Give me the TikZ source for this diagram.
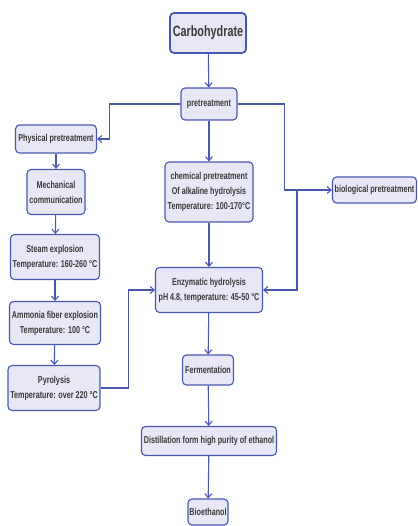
\documentclass[tikz,border=0pt]{standalone}
\usepackage{fontspec}
\setmainfont[FakeStretch=0.72]{Liberation Sans}
\usetikzlibrary{arrows.meta}
\definecolor{flowblue}{HTML}{4A57B2}
\definecolor{flowfill}{HTML}{E7E7F6}
\definecolor{flowtext}{HTML}{3A3A3A}

\begin{document}
\begin{tikzpicture}
[x=1pt, y=-1pt,
 box/.style={draw=flowblue, fill=flowfill, line width=1.1pt, rounded corners=4pt,
   align=center, inner sep=1pt, text=flowtext,
   font=\bfseries\fontsize{10}{15}\selectfont},
 link/.style={draw=flowblue, line width=1.1pt, -{Straight Barb[length=4pt, width=7pt]}},
]
\useasboundingbox (0,0) rectangle (417,526);

%main column
\node[box, line width=1.8pt, minimum width=76pt, minimum height=40pt,
      font=\bfseries\fontsize{15}{18}\selectfont] (carb) at (208,33) {Carbohydrate};
\node[box, minimum width=56pt, minimum height=32pt] (pre) at (209,104) {pretreatment};
\node[box, minimum width=88pt, minimum height=60pt] (chem) at (209,192)
  {chemical pretreatment\\Of alkaline hydrolysis\\Temperature: 100-170°C};
\node[box, minimum width=107pt, minimum height=45pt] (enz) at (209,290)
  {Enzymatic hydrolysis\\pH 4.8, temperature: 45-50 °C};
\node[box, minimum width=51pt, minimum height=30pt] (ferm) at (208,370) {Fermentation};
\node[box, minimum width=135pt, minimum height=29pt] (dist) at (209,441)
  {Distillation form high purity of ethanol};
\node[box, minimum width=40pt, minimum height=26pt] (bioeth) at (208,512) {Bioethanol};

%physical column
\node[box, minimum width=81pt, minimum height=28pt] (phys) at (56,139) {Physical pretreatment};
\node[box, minimum width=58pt, minimum height=45pt] (mech) at (56,192) {Mechanical\\communication};
\node[box, minimum width=89pt, minimum height=45pt] (steam) at (55,257)
  {Steam explosion\\Temperature: 160-260 °C};
\node[box, minimum width=91pt, minimum height=43pt] (ammo) at (55,323)
  {Ammonia fiber explosion\\Temperature: 100 °C};
\node[box, minimum width=92pt, minimum height=45pt] (pyro) at (54,388)
  {Pyrolysis\\Temperature: over 220 °C};

%biological
\node[box, minimum width=84pt, minimum height=26pt] (bio) at (374.5,190) {biological pretreatment};
\coordinate (split) at (297,190);

%connectors
\draw[link] (carb) -- (pre);
\draw[link] (pre) -- (chem);
\draw[link] (chem) -- (enz);
\draw[link] (enz) -- (ferm);
\draw[link] (ferm) -- (dist);
\draw[link] (dist) -- (bioeth);

\draw[link] (pre.west) -- ++(-71,0) |- (phys.east);
\draw[link] (phys) -- (mech);
\draw[link] (mech) -- (steam);
\draw[link] (steam) -- (ammo);
\draw[link] (ammo) -- (pyro);
\draw[link] (pyro.east) -- ++(28,0) |- (enz.west);

\draw[link] (pre.east) -- ++(47,0) |- (bio.west);
\draw[link] (split) |- (enz.east);

\end{tikzpicture}
\end{document}
